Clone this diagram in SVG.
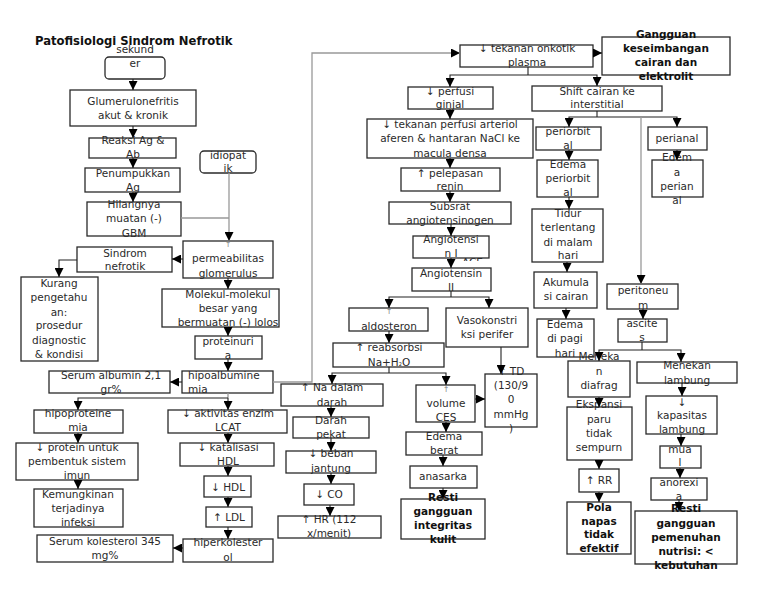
<svg xmlns="http://www.w3.org/2000/svg" width="768" height="594" viewBox="0 0 768 594">
<style>
.bx{fill:#fff;stroke:#2a2a2a;stroke-width:1.3}
text{font-family:"DejaVu Sans","Liberation Sans",sans-serif;font-size:10.5px;fill:#2a2a2a;text-anchor:middle}
.bd{font-weight:bold;fill:#111}
.lf{text-anchor:start}
.sm{font-size:8px;fill:#888}
.c{fill:none;stroke:#222;stroke-width:1.1}
.g{fill:none;stroke:#999;stroke-width:1.3}
.ttl{font-weight:bold;font-size:11.6px;text-anchor:start;fill:#111}
</style>
<defs>
<marker id="a" viewBox="0 0 10 10" refX="10" refY="5" markerWidth="9" markerHeight="9" markerUnits="userSpaceOnUse" orient="auto"><path d="M0,0 L10,5 L0,10 z" fill="#000"/></marker>
<clipPath id="ac"><rect x="455" y="250" width="40" height="11"/></clipPath>
</defs>
<rect width="768" height="594" fill="#fff"/>
<text class="ttl" x="35" y="45">Patofisiologi Sindrom Nefrotik</text>

<g id="n-sekunder"><rect class="bx" x="105" y="57" width="60" height="22" rx="4"/><text x="135" y="53">sekund</text><text x="135" y="67">er</text></g>
<g id="n-glumerulo"><rect class="bx" x="70" y="90" width="126" height="36"/><text x="133" y="105">Glumerulonefritis</text><text x="133" y="119">akut &amp; kronik</text></g>
<g id="n-reaksi"><rect class="bx" x="89" y="138" width="87" height="20"/><text x="133" y="144">Reaksi Ag &amp;</text><text x="133" y="158">Ab</text></g>
<g id="n-penumpukkan"><rect class="bx" x="85" y="168" width="95" height="24"/><text x="133" y="177">Penumpukkan</text><text x="133" y="191">Ag</text></g>
<g id="n-hilangnya"><rect class="bx" x="87" y="202" width="94" height="34"/><text x="134" y="208">Hilangnya</text><text x="134" y="222">muatan (-)</text><text x="134" y="237">GBM</text></g>
<g id="n-idiopatik"><rect class="bx" x="200" y="151" width="56" height="22" rx="4"/><text x="228" y="159">idiopat</text><text x="228" y="172">ik</text></g>
<g id="n-permeabilitas"><rect class="bx" x="183" y="241" width="90" height="37"/><text class="sm" x="228" y="247">↑</text><text x="228" y="262">permeabilitas</text><text x="228" y="277">glomerulus</text></g>
<g id="n-sindrom"><rect class="bx" x="77" y="247" width="95" height="25"/><text x="125" y="257">Sindrom</text><text x="125" y="270">nefrotik</text></g>
<g id="n-kurang"><rect class="bx" x="21" y="277" width="77" height="84"/><text x="59" y="287">Kurang</text><text x="59" y="301">pengetahu</text><text x="59" y="316">an:</text><text x="59" y="329">prosedur</text><text x="59" y="344">diagnostic</text><text x="59" y="358">&amp; kondisi</text></g>
<g id="n-molekul"><rect class="bx" x="162" y="289" width="117" height="38"/><text x="228" y="298">Molekul-molekul</text><text x="228" y="312">besar yang</text><text x="228" y="326">bermuatan (-) lolos</text></g>
<g id="n-proteinuria"><rect class="bx" x="195" y="336" width="67" height="23"/><text x="228" y="345">proteinuri</text><text x="228" y="359">a</text></g>
<g id="n-hipoalbuminemia"><rect class="bx" x="182" y="371" width="91" height="22"/><text class="lf" x="188" y="379">hipoalbumine</text><text class="lf" x="188" y="393">mia</text></g>
<g id="n-serumalb"><rect class="bx" x="49" y="371" width="121" height="22"/><text x="111" y="379">Serum albumin 2,1</text><text x="111" y="393">gr%</text></g>
<g id="n-hipoproteinemia"><rect class="bx" x="34" y="410" width="89" height="23"/><text x="78" y="417">hipoproteine</text><text x="78" y="431">mia</text></g>
<g id="n-lcat"><rect class="bx" x="168" y="410" width="119" height="23"/><text x="228" y="417">↓ aktivitas enzim</text><text x="228" y="431">LCAT</text></g>
<g id="n-protein"><rect class="bx" x="16" y="443" width="122" height="37"/><text x="77" y="451">↓ protein untuk</text><text x="77" y="465">pembentuk sistem</text><text x="77" y="479">imun</text></g>
<g id="n-infeksi"><rect class="bx" x="34" y="489" width="89" height="38"/><text x="78" y="498">Kemungkinan</text><text x="78" y="512">terjadinya</text><text x="78" y="526">infeksi</text></g>
<g id="n-serumkol"><rect class="bx" x="37" y="535" width="136" height="27"/><text x="105" y="545">Serum kolesterol 345</text><text x="105" y="559">mg%</text></g>
<g id="n-katalisasi"><rect class="bx" x="180" y="443" width="94" height="23"/><text x="228" y="451">↓ katalisasi</text><text x="228" y="465">HDL</text></g>
<g id="n-hdl"><rect class="bx" x="204" y="476" width="47" height="21"/><text x="228" y="491">↓ HDL</text></g>
<g id="n-ldl"><rect class="bx" x="206" y="507" width="46" height="20"/><text x="229" y="521">↑ LDL</text></g>
<g id="n-hiperkol"><rect class="bx" x="183" y="539" width="90" height="23"/><text x="228" y="546">hiperkolester</text><text x="228" y="561">ol</text></g>

<g id="n-onkotik"><rect class="bx" x="460" y="45" width="133" height="22"/><text x="527" y="52">↓ tekanan onkotik</text><text x="527" y="66">plasma</text></g>
<g id="n-gangguan"><rect class="bx" x="602" y="37" width="128" height="38"/><text class="bd" x="666" y="38">Gangguan</text><text class="bd" x="666" y="52">keseimbangan</text><text class="bd" x="666" y="66">cairan dan</text><text class="bd" x="666" y="80">elektrolit</text></g>
<g id="n-perfusi"><rect class="bx" x="408" y="87" width="85" height="22"/><text x="450" y="95">↓ perfusi</text><text x="450" y="108">ginjal</text></g>
<g id="n-arteriol"><rect class="bx" x="367" y="119" width="166" height="39"/><text x="450" y="128">↓ tekanan perfusi arteriol</text><text x="450" y="142">aferen &amp; hantaran NaCl ke</text><text x="450" y="157">macula densa</text></g>
<g id="n-renin"><rect class="bx" x="401" y="168" width="99" height="23"/><text x="450" y="177">↑ pelepasan</text><text x="450" y="190">renin</text></g>
<g id="n-subsrat"><rect class="bx" x="389" y="202" width="122" height="22"/><text x="450" y="210">Subsrat</text><text x="450" y="224">angiotensinogen</text></g>
<g id="n-ang1"><rect class="bx" x="413" y="236" width="76" height="22"/><text x="451" y="243">Angiotensi</text><text x="451" y="257">n I</text><text class="lf" x="462" y="266" clip-path="url(#ac)">ACE</text></g>
<g id="n-ang2"><rect class="bx" x="412" y="268" width="79" height="23"/><text x="451" y="277">Angiotensin</text><text x="451" y="291">II</text></g>
<g id="n-aldosteron"><rect class="bx" x="349" y="308" width="79" height="23"/><text class="sm" x="389" y="314">↑</text><text x="389" y="330">aldosteron</text></g>
<g id="n-vaso"><rect class="bx" x="446" y="308" width="82" height="39"/><text x="487" y="324">Vasokonstri</text><text x="487" y="338">ksi perifer</text></g>
<g id="n-reabsorbsi"><rect class="bx" x="333" y="343" width="111" height="24"/><text x="389" y="351">↑ reabsorbsi</text><text x="389" y="366">Na+H<tspan font-size="5px">2</tspan>O</text></g>
<g id="n-na"><rect class="bx" x="281" y="384" width="102" height="22"/><text x="332" y="391">↑ Na dalam</text><text x="332" y="406">darah</text></g>
<g id="n-darah"><rect class="bx" x="293" y="417" width="76" height="21"/><text x="331" y="424">Darah</text><text x="331" y="438">pekat</text></g>
<g id="n-beban"><rect class="bx" x="286" y="451" width="90" height="22"/><text x="331" y="457">↓ beban</text><text x="331" y="472">jantung</text></g>
<g id="n-co"><rect class="bx" x="304" y="484" width="50" height="21"/><text x="329" y="498">↓ CO</text></g>
<g id="n-hr"><rect class="bx" x="278" y="516" width="103" height="22"/><text x="329" y="523">↑ HR (112</text><text x="329" y="537">x/menit)</text></g>
<g id="n-volume"><rect class="bx" x="416" y="385" width="59" height="37"/><text class="sm" x="446" y="392">↑</text><text x="446" y="407">volume</text><text x="446" y="421">CES</text></g>
<g id="n-td"><rect class="bx" x="485" y="374" width="52" height="53"/><text x="511" y="375">↑ TD</text><text x="511" y="389">(130/9</text><text x="511" y="403">0</text><text x="511" y="418">mmHg</text><text x="511" y="432">)</text></g>
<g id="n-edemaberat"><rect class="bx" x="406" y="432" width="76" height="23"/><text x="444" y="440">Edema</text><text x="444" y="454">berat</text></g>
<g id="n-anasarka"><rect class="bx" x="410" y="466" width="67" height="22"/><text x="443" y="480">anasarka</text></g>
<g id="n-restikulit"><rect class="bx" x="401" y="499" width="84" height="40"/><text class="bd" x="443" y="501">Resti</text><text class="bd" x="443" y="515">gangguan</text><text class="bd" x="443" y="529">integritas</text><text class="bd" x="443" y="543">kulit</text></g>

<g id="n-shift"><rect class="bx" x="532" y="86" width="130" height="25"/><text x="597" y="95">Shift cairan ke</text><text x="597" y="108">interstitial</text></g>
<g id="n-periorbital"><rect class="bx" x="536" y="127" width="65" height="23"/><text x="568" y="135">periorbit</text><text x="568" y="149">al</text></g>
<g id="n-perianal"><rect class="bx" x="648" y="127" width="59" height="23"/><text x="677" y="142">perianal</text></g>
<g id="n-edemaperiorbital"><rect class="bx" x="537" y="160" width="61" height="37"/><text x="568" y="168">Edema</text><text x="568" y="182">periorbit</text><text x="568" y="196">al</text></g>
<g id="n-edemaperianal"><rect class="bx" x="652" y="160" width="51" height="37"/><text x="677" y="161">Edem</text><text x="677" y="176">a</text><text x="677" y="190">perian</text><text x="677" y="204">al</text></g>
<g id="n-tidur"><rect class="bx" x="532" y="209" width="71" height="53"/><text x="568" y="217">Tidur</text><text x="568" y="231">terlentang</text><text x="568" y="246">di malam</text><text x="568" y="259">hari</text></g>
<g id="n-akumulasi"><rect class="bx" x="534" y="272" width="63" height="36"/><text x="566" y="286">Akumula</text><text x="566" y="300">si cairan</text></g>
<g id="n-edemapagi"><rect class="bx" x="537" y="319" width="57" height="38"/><text x="565" y="328">Edema</text><text x="565" y="342">di pagi</text><text x="565" y="357">hari</text></g>
<g id="n-peritoneum"><rect class="bx" x="607" y="284" width="71" height="25"/><text x="643" y="294">peritoneu</text><text x="643" y="309">m</text></g>
<g id="n-ascites"><rect class="bx" x="618" y="319" width="49" height="23"/><text x="642" y="327">ascite</text><text x="642" y="341">s</text></g>
<g id="n-diafrag"><rect class="bx" x="568" y="361" width="62" height="36"/><text x="599" y="360">Meneka</text><text x="599" y="375">n</text><text x="599" y="389">diafrag</text></g>
<g id="n-lambung"><rect class="bx" x="637" y="362" width="100" height="21"/><text x="687" y="369">Menekan</text><text x="687" y="384">lambung</text></g>
<g id="n-ekspansi"><rect class="bx" x="567" y="407" width="65" height="53"/><text x="599" y="408">Ekspansi</text><text x="599" y="423">paru</text><text x="599" y="437">tidak</text><text x="599" y="451">sempurn</text></g>
<g id="n-rr"><rect class="bx" x="579" y="469" width="40" height="23"/><text x="599" y="484">↑ RR</text></g>
<g id="n-pola"><rect class="bx" x="567" y="502" width="64" height="52"/><text class="bd" x="599" y="511">Pola</text><text class="bd" x="599" y="525">napas</text><text class="bd" x="599" y="538">tidak</text><text class="bd" x="599" y="552">efektif</text></g>
<g id="n-kapasitas"><rect class="bx" x="646" y="396" width="71" height="38"/><text x="682" y="406">↓</text><text x="682" y="419">kapasitas</text><text x="682" y="433">lambung</text></g>
<g id="n-mual"><rect class="bx" x="660" y="446" width="41" height="22"/><text x="680" y="453">mua</text><text x="680" y="466">l</text></g>
<g id="n-anorexia"><rect class="bx" x="651" y="478" width="56" height="22"/><text x="679" y="486">anorexi</text><text x="679" y="500">a</text></g>
<g id="n-restinutrisi"><rect class="bx" x="635" y="511" width="102" height="53"/><text class="bd" x="686" y="512">Resti</text><text class="bd" x="686" y="527">gangguan</text><text class="bd" x="686" y="541">pemenuhan</text><text class="bd" x="686" y="555">nutrisi: &lt;</text><text class="bd" x="686" y="569">kebutuhan</text></g>

<g id="connectors">
<path class="c" marker-end="url(#a)" d="M133,79 V90"/>
<path class="c" marker-end="url(#a)" d="M133,126 V138"/>
<path class="c" marker-end="url(#a)" d="M133,158 V168"/>
<path class="c" marker-end="url(#a)" d="M133,192 V202"/>
<path class="g" d="M181,218 H229"/>
<path class="g" marker-end="url(#a)" d="M229,173 V241"/>
<path class="c" marker-end="url(#a)" d="M183,259 H172"/>
<path class="c" marker-end="url(#a)" d="M77,260 H59 V277"/>
<path class="c" marker-end="url(#a)" d="M228,278 V289"/>
<path class="c" marker-end="url(#a)" d="M228,327 V336"/>
<path class="c" marker-end="url(#a)" d="M228,359 V371"/>
<path class="c" marker-end="url(#a)" d="M182,382 H170"/>
<path class="g" marker-end="url(#a)" d="M273,382 H312 V53 H460"/>
<path class="g" d="M228,393 V398"/>
<path class="c" marker-end="url(#a)" d="M228,398 H78 V410"/>
<path class="c" marker-end="url(#a)" d="M228,398 V410"/>
<path class="c" marker-end="url(#a)" d="M78,433 V443"/>
<path class="c" marker-end="url(#a)" d="M78,480 V489"/>
<path class="c" marker-end="url(#a)" d="M228,433 V443"/>
<path class="c" marker-end="url(#a)" d="M228,466 V476"/>
<path class="c" marker-end="url(#a)" d="M228,497 V507"/>
<path class="c" marker-end="url(#a)" d="M228,527 V539"/>
<path class="c" marker-end="url(#a)" d="M183,548 H173"/>
<path class="c" marker-end="url(#a)" d="M593,53 H602"/>
<path class="c" d="M528,67 V75"/>
<path class="c" marker-end="url(#a)" d="M528,75 H450 V87"/>
<path class="c" marker-end="url(#a)" d="M528,75 H597 V86"/>
<path class="c" marker-end="url(#a)" d="M450,109 V119"/>
<path class="c" marker-end="url(#a)" d="M450,158 V168"/>
<path class="c" marker-end="url(#a)" d="M450,191 V202"/>
<path class="c" marker-end="url(#a)" d="M451,224 V236"/>
<path class="c" marker-end="url(#a)" d="M451,258 V268"/>
<path class="c" d="M451,291 V297"/>
<path class="c" marker-end="url(#a)" d="M451,297 H389 V308"/>
<path class="c" marker-end="url(#a)" d="M451,297 H489 V308"/>
<path class="c" marker-end="url(#a)" d="M389,331 V343"/>
<path class="c" d="M389,367 V373"/>
<path class="c" marker-end="url(#a)" d="M389,373 H332 V384"/>
<path class="c" marker-end="url(#a)" d="M389,373 H446 V385"/>
<path class="c" marker-end="url(#a)" d="M331,406 V417"/>
<path class="c" marker-end="url(#a)" d="M331,438 V451"/>
<path class="c" marker-end="url(#a)" d="M331,473 V484"/>
<path class="c" marker-end="url(#a)" d="M330,505 V516"/>
<path class="c" marker-end="url(#a)" d="M501,347 V374"/>
<path class="c" marker-end="url(#a)" d="M475,399 H485"/>
<path class="c" marker-end="url(#a)" d="M446,422 V432"/>
<path class="c" marker-end="url(#a)" d="M443,455 V466"/>
<path class="c" marker-end="url(#a)" d="M443,488 V499"/>
<path class="c" d="M597,111 V117"/>
<path class="c" marker-end="url(#a)" d="M597,117 H569 V127"/>
<path class="c" marker-end="url(#a)" d="M597,117 H677 V127"/>
<path class="g" marker-end="url(#a)" d="M641,117 V284"/>
<path class="c" marker-end="url(#a)" d="M569,150 V160"/>
<path class="c" marker-end="url(#a)" d="M677,150 V160"/>
<path class="c" marker-end="url(#a)" d="M569,197 V209"/>
<path class="c" marker-end="url(#a)" d="M567,262 V272"/>
<path class="c" marker-end="url(#a)" d="M566,308 V319"/>
<path class="c" marker-end="url(#a)" d="M643,309 V319"/>
<path class="c" d="M642,342 V350"/>
<path class="c" marker-end="url(#a)" d="M642,350 H599 V361"/>
<path class="c" marker-end="url(#a)" d="M642,350 H681 V362"/>
<path class="c" marker-end="url(#a)" d="M599,397 V407"/>
<path class="c" marker-end="url(#a)" d="M599,460 V469"/>
<path class="c" marker-end="url(#a)" d="M599,492 V502"/>
<path class="c" marker-end="url(#a)" d="M682,383 V396"/>
<path class="c" marker-end="url(#a)" d="M681,434 V446"/>
<path class="c" marker-end="url(#a)" d="M680,468 V478"/>
<path class="c" marker-end="url(#a)" d="M679,500 V511"/>
</g>
</svg>
